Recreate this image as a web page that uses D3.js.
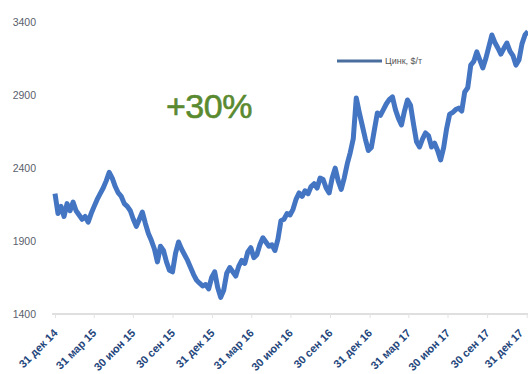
<!DOCTYPE html>
<html>
<head>
<meta charset="utf-8">
<script src="https://cdn.jsdelivr.net/npm/d3@7"></script>
<style>
  html, body { margin: 0; padding: 0; background: #fff; }
  svg { display: block; }
</style>
</head>
<body>
<svg id="chart" width="528" height="374"></svg>
<script>
// Weekly zinc price, $/t, starting 31 Dec 2014
const startDate = new Date(2014, 11, 31);
const priceValues = [
  2224, 2088, 2137, 2068, 2156, 2107, 2166, 2107, 2078, 2049,
  2068, 2029, 2088, 2137, 2185, 2224, 2263, 2312, 2370, 2331,
  2273, 2229, 2205, 2156, 2137, 2107, 2049, 2000, 2049, 2098,
  2020, 1952, 1903, 1845, 1757, 1864, 1835, 1757, 1699, 1689,
  1815, 1893, 1845, 1806, 1767, 1718, 1670, 1631, 1611, 1592,
  1602, 1572, 1650, 1689, 1582, 1514, 1563, 1679, 1718, 1689,
  1660, 1728, 1767, 1747, 1825, 1854, 1786, 1806, 1874, 1922,
  1893, 1864, 1874, 1835, 1913, 2039, 2049, 2088, 2078, 2117,
  2185, 2229, 2205, 2244, 2224, 2273, 2292, 2263, 2331, 2321,
  2263, 2229, 2331, 2399, 2312, 2253, 2331, 2428, 2506, 2600,
  2880, 2780, 2690, 2600, 2520, 2540, 2660, 2777, 2760, 2800,
  2840, 2870, 2887, 2800, 2740, 2695, 2790, 2866, 2830, 2700,
  2580, 2544, 2600, 2640, 2620, 2544, 2570, 2520, 2455, 2540,
  2671, 2769, 2780, 2800, 2810, 2790, 2921, 2950, 3105, 3130,
  3195, 3140, 3085, 3150, 3230, 3311, 3260, 3222, 3180, 3220,
  3256, 3200, 3170, 3105, 3140, 3250, 3311, 3335
];
const yTicks = [1400, 1900, 2400, 2900, 3400];
const xTickDates = [
  new Date(2014, 11, 31), new Date(2015, 2, 31), new Date(2015, 5, 30), new Date(2015, 8, 30),
  new Date(2015, 11, 31), new Date(2016, 2, 31), new Date(2016, 5, 30), new Date(2016, 8, 30),
  new Date(2016, 11, 31), new Date(2017, 2, 31), new Date(2017, 5, 30), new Date(2017, 8, 30),
  new Date(2017, 11, 31)
];
const xTickLabels = [
  "31 дек 14", "31 мар 15", "30 июн 15", "30 сен 15", "31 дек 15", "31 мар 16",
  "30 июн 16", "30 сен 16", "31 дек 16", "31 мар 17", "30 июн 17", "30 сен 17", "31 дек 17"
];
const seriesName = "Цинк, $/т";
const changeLabel = "+30%";

const series = priceValues.map((v, i) => ({ date: d3.timeDay.offset(startDate, 7 * i), value: v }));

const svg = d3.select("#chart");
const x = d3.scaleTime()
  .domain([startDate, series[series.length - 1].date])
  .range([55, 528]);
const y = d3.scaleLinear().domain([1400, 3400]).range([314, 22]);

// horizontal base line
svg.append("line")
  .attr("x1", 52).attr("x2", 528)
  .attr("y1", y(1400)).attr("y2", y(1400))
  .attr("stroke", "#d4d4d4").attr("stroke-width", 1.5);

// y axis labels
const yAxis = d3.axisLeft(y).tickValues(yTicks).tickSize(0).tickPadding(0).tickFormat(d3.format("d"));
const gy = svg.append("g").attr("transform", "translate(36,0)").call(yAxis);
gy.select(".domain").remove();
gy.selectAll("text")
  .attr("font-family", "Liberation Sans, Arial, sans-serif")
  .attr("font-size", 10.5)
  .attr("fill", "#5a5f6c");

// x axis with rotated labels; the last one is nudged left to stay inside the frame
const xAxis = d3.axisBottom(x).tickValues(xTickDates).tickSize(4)
  .tickFormat((d, i) => xTickLabels[i]);
const gx = svg.append("g").attr("transform", `translate(0,${y(1400)})`).call(xAxis);
gx.select(".domain").remove();
gx.selectAll(".tick line").attr("stroke", "#e2e2e2");
const lastIdx = xTickLabels.length - 1;
gx.selectAll("text")
  .attr("font-family", "Liberation Sans, Arial, sans-serif")
  .attr("font-size", 11)
  .attr("font-weight", "bold")
  .attr("fill", "#24467c")
  .attr("text-anchor", "end")
  .attr("x", 0).attr("y", 0)
  .attr("dy", "0.35em")
  .attr("transform", (d, i) => `translate(${i === lastIdx ? -6 : 0},17) rotate(-45)`);

// price line
const line = d3.line().x(d => x(d.date)).y(d => y(d.value));
svg.append("path")
  .datum(series)
  .attr("d", line)
  .attr("fill", "none")
  .attr("stroke", "#4475c2")
  .attr("stroke-width", 5)
  .attr("stroke-linejoin", "round");

// legend
svg.append("line")
  .attr("x1", 337).attr("x2", 382).attr("y1", 61).attr("y2", 61)
  .attr("stroke", "#4a6f9e").attr("stroke-width", 3);
svg.append("text")
  .attr("x", 385).attr("y", 64)
  .attr("font-family", "Liberation Sans, Arial, sans-serif")
  .attr("font-size", 9)
  .attr("fill", "#555")
  .text(seriesName);

// change annotation
svg.append("text")
  .attr("x", 166).attr("y", 118)
  .attr("font-family", "Liberation Sans, Arial, sans-serif")
  .attr("font-size", 34)
  .attr("fill", "#5a8a30")
  .attr("stroke", "#5a8a30")
  .attr("stroke-width", 0.6)
  .attr("letter-spacing", -0.5)
  .text(changeLabel);
</script>
</body>
</html>
